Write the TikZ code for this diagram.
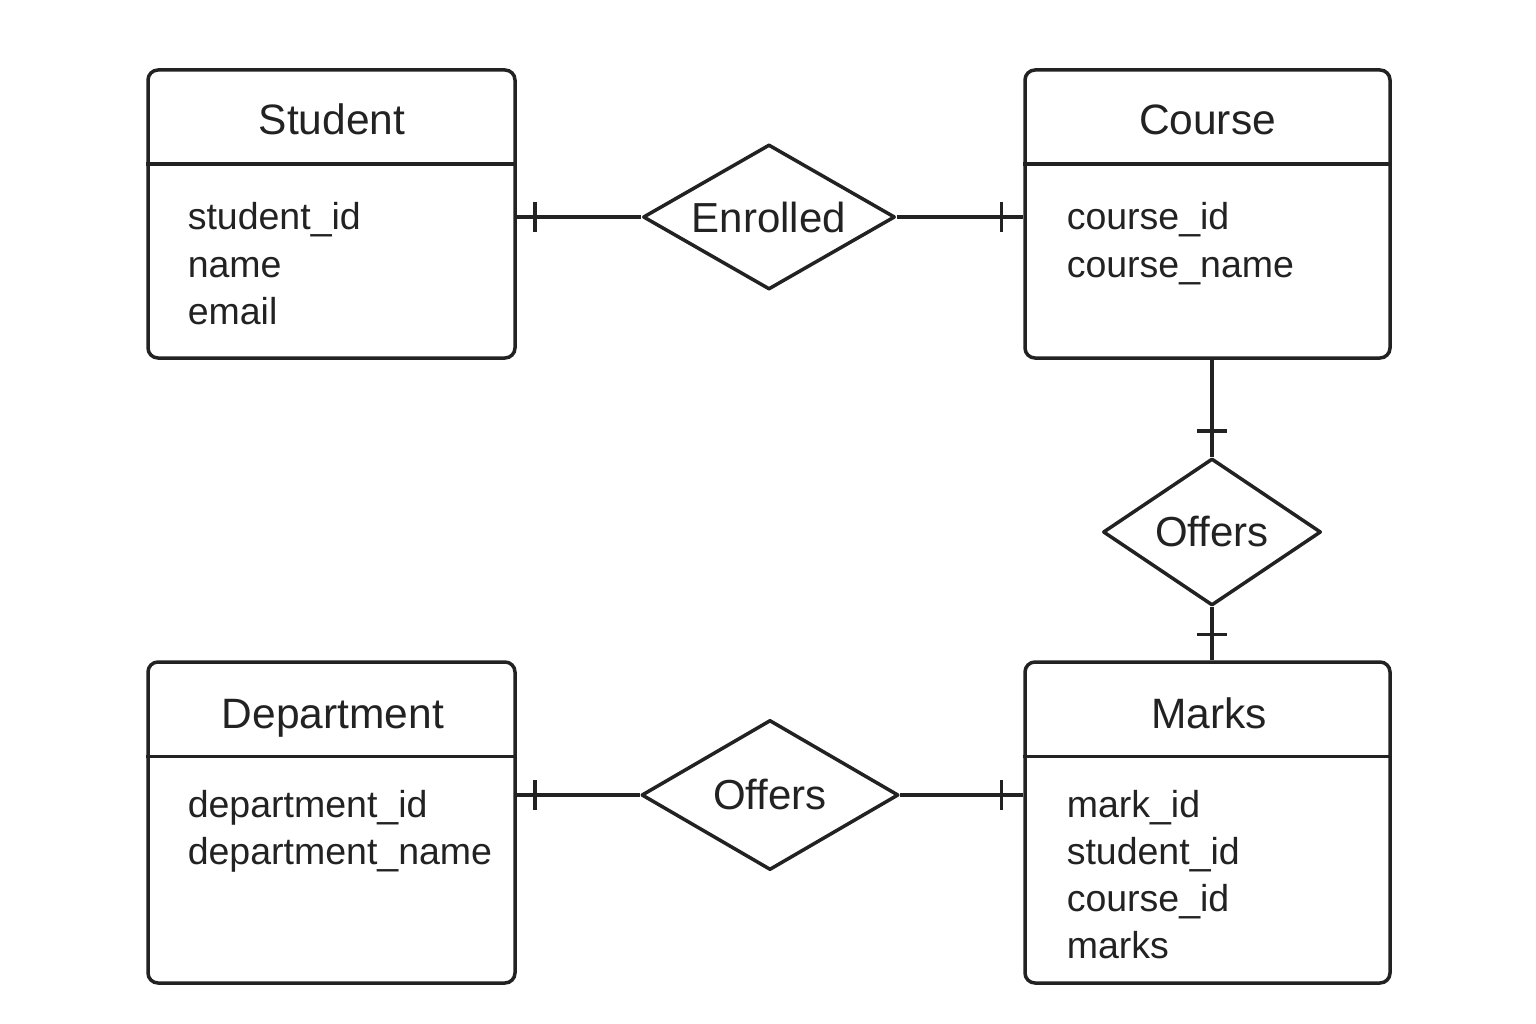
\documentclass[tikz,border=0pt]{standalone}
\usepackage{fontspec}
\setmainfont{Liberation Sans}
\usetikzlibrary{shapes.geometric,calc,positioning}
\definecolor{ink}{HTML}{222222}

\begin{document}
\begin{tikzpicture}[x=1pt, y=-1pt, line width=3.5pt, color=ink,
    entity/.style={draw, rounded corners=10pt, inner sep=0pt},
    rel/.style={draw, diamond, inner sep=0pt, line join=round, font=\fontsize{42}{50}\selectfont},
    title/.style={anchor=base, font=\fontsize{42.5}{50}\selectfont},
    attr/.style={anchor=base west, inner sep=0pt, font=\fontsize{37.5}{47}\selectfont}]
\useasboundingbox (0,0) rectangle (1536,1024);
% entities
\node[entity, minimum width=367, minimum height=288] (student) at (331.5, 214) {};
\node[entity, minimum width=365, minimum height=288] (course) at (1207.5, 214) {};
\node[entity, minimum width=367, minimum height=321] (department) at (331.5, 822.5) {};
\node[entity, minimum width=365, minimum height=321] (marks) at (1207.5, 822.5) {};
\foreach \e in {student, course, department, marks}
    \draw ($(\e.north west)+(0,96)$) -- ($(\e.north east)+(0,96)$);
\node[title] at (332, 135) {Student};
\node[title] at (1207.5, 135) {Course};
\node[title] at (333, 728) {Department};
\node[title] at (1209, 728) {Marks};
% attributes
\foreach \t [count=\i] in {student\_id, name, email}
    \node[attr] at (186, 183+47*\i) {\t};
\foreach \t [count=\i] in {course\_id, course\_name}
    \node[attr] at (1065, 183+47*\i) {\t};
\foreach \t [count=\i] in {department\_id, department\_name}
    \node[attr] at (186, 770+47*\i) {\t};
\foreach \t [count=\i] in {mark\_id, student\_id, course\_id, marks}
    \node[attr] at (1065, 770+47*\i) {\t};
% relationships
\node[rel, aspect=1.74, minimum width=252, minimum height=145] (enrolled) at (769, 217) {Enrolled};
\node[rel, aspect=1.48, minimum width=218, minimum height=147] (offerscm) at (1212, 532) {Offers};
\node[rel, aspect=1.71, minimum width=257, minimum height=150] (offersdm) at (770, 795) {Offers};
% connectors
\draw (student.east |- enrolled) -- (enrolled.west);
\draw (enrolled.east) -- (course.west |- enrolled);
\draw (course.south -| offerscm) -- (offerscm.north);
\draw (offerscm.south) -- (marks.north -| offerscm);
\draw (department.east |- offersdm) -- (offersdm.west);
\draw (offersdm.east) -- (marks.west |- offersdm);
% ticks
\draw ($(student.east |- enrolled)+(18,-15)$) -- ++(0,30);
\draw ($(course.west |- enrolled)+(-22,-15)$) -- ++(0,30);
\draw ($(offerscm.north)+(-15,-26)$) -- ++(30,0);
\draw ($(offerscm.south)+(-15,27)$) -- ++(30,0);
\draw ($(department.east |- offersdm)+(18,-15)$) -- ++(0,30);
\draw ($(marks.west |- offersdm)+(-22,-15)$) -- ++(0,30);
\end{tikzpicture}
\end{document}
